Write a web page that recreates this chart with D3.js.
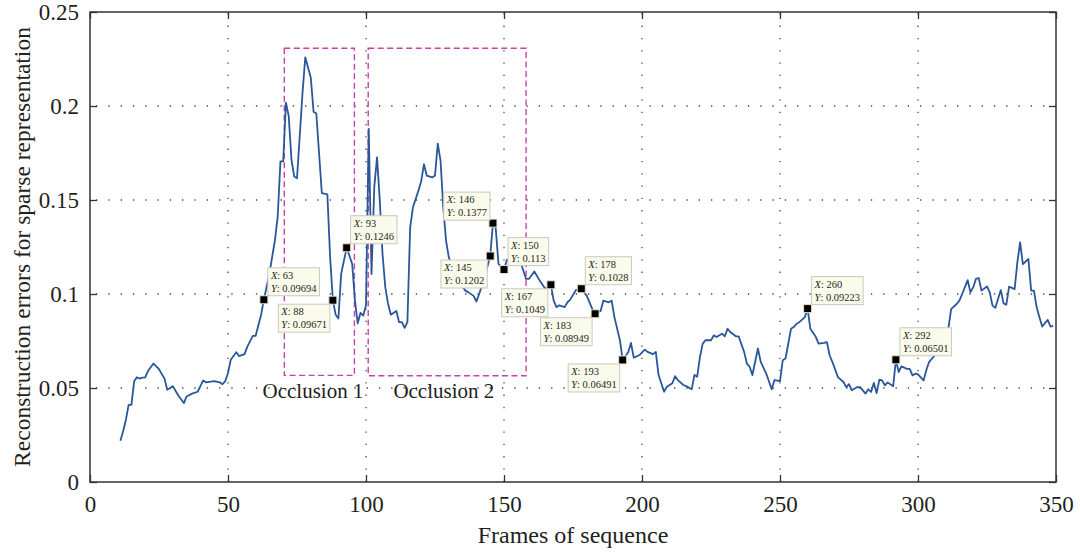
<!DOCTYPE html>
<html>
<head>
<meta charset="utf-8">
<script src="https://cdn.jsdelivr.net/npm/d3@7"></script>
<style>
  body { margin: 0; background: #fff; }
  svg { display: block; }
  text { font-family: "Liberation Serif", "DejaVu Serif", serif; fill: #231f20; }
</style>
</head>
<body>
<svg width="1080" height="554"></svg>
<script>
// frame numbers and reconstruction errors
var frames = [11,12,13,14,15,16,17,18,19,20,21,23,25,27,28,30,32,34,35,37,39,40,41,42,45,47,48,49,50,51,53,54,56,57,59,60,62,63,65,67,68,69,70,71,72,73,74,75,77,78,80,81,82,84,86,87,88,89,90,91,93,95,96,97,98,99,100,101,102,103,104,105,106,107,108,109,111,112,113,114,115,116,117,119,120,121,122,124,125,126,127,128,129,130,132,134,136,137,139,140,141,143,145,146,147,148,150,151,153,155,157,158,159,161,163,165,167,168,169,170,172,173,174,176,178,180,182,183,185,186,188,189,190,192,193,195,196,197,199,201,202,204,205,206,208,209,211,212,213,215,216,218,219,220,221,222,223,225,226,227,229,230,231,232,234,235,237,238,239,240,242,243,245,247,248,250,251,252,254,255,256,257,259,260,261,263,264,266,267,268,269,271,273,274,275,276,278,279,281,282,283,284,285,286,287,288,289,291,292,293,294,296,297,298,299,300,302,303,304,306,308,311,312,314,315,316,318,319,320,321,322,323,325,326,327,328,330,331,332,333,335,336,337,338,340,341,342,343,344,345,347,348,349];
var errors = [0.022,0.027,0.033,0.041,0.041,0.0536,0.0557,0.055,0.0555,0.0557,0.059,0.063,0.060,0.055,0.049,0.051,0.046,0.042,0.0455,0.047,0.048,0.051,0.054,0.053,0.0536,0.053,0.052,0.0536,0.058,0.065,0.069,0.067,0.068,0.072,0.0777,0.0777,0.089,0.09694,0.1107,0.1286,0.141,0.1705,0.1705,0.2018,0.1946,0.1714,0.1625,0.1616,0.207,0.2259,0.215,0.197,0.196,0.1536,0.153,0.1196,0.09671,0.089,0.087,0.1107,0.1246,0.116,0.0965,0.0844,0.090,0.0885,0.094,0.1878,0.1106,0.157,0.1727,0.1496,0.121,0.1035,0.0947,0.089,0.091,0.085,0.085,0.082,0.085,0.1355,0.146,0.155,0.160,0.169,0.163,0.162,0.163,0.180,0.171,0.146,0.1284,0.1195,0.1106,0.106,0.1018,0.101,0.099,0.096,0.1,0.109,0.1202,0.1377,0.135,0.116,0.113,0.118,0.1195,0.121,0.1125,0.108,0.108,0.112,0.107,0.1027,0.1049,0.0965,0.093,0.094,0.093,0.0956,0.097,0.102,0.1028,0.099,0.092,0.08949,0.091,0.0965,0.0956,0.0965,0.0877,0.0754,0.06491,0.069,0.074,0.0662,0.0674,0.0704,0.0692,0.068,0.0692,0.0569,0.048,0.0507,0.0525,0.0563,0.0542,0.0516,0.051,0.0493,0.0569,0.056,0.0665,0.0736,0.0754,0.0754,0.078,0.0771,0.0789,0.0775,0.0815,0.0798,0.0775,0.0775,0.0692,0.063,0.0613,0.0569,0.071,0.064,0.0577,0.0493,0.0542,0.0537,0.0648,0.0657,0.0815,0.0824,0.0842,0.085,0.0877,0.09223,0.0815,0.0771,0.0736,0.074,0.0744,0.0673,0.0638,0.0558,0.0532,0.0505,0.052,0.0488,0.0505,0.0505,0.047,0.0493,0.0479,0.0527,0.0473,0.0544,0.054,0.0514,0.053,0.0509,0.06501,0.0585,0.0615,0.0602,0.0602,0.0567,0.0576,0.0572,0.054,0.0594,0.0638,0.0673,0.073,0.0815,0.092,0.0947,0.0965,0.1,0.1074,0.1009,0.1035,0.108,0.1085,0.1018,0.104,0.1009,0.0938,0.0926,0.1021,0.095,0.0943,0.1039,0.1026,0.1168,0.1274,0.1159,0.1186,0.1018,0.1018,0.0929,0.0876,0.0827,0.0862,0.0827,0.083];

// data tips
var tipX = [63,88,93,145,146,150,167,178,183,193,260,292];
var tipY = [0.09694,0.09671,0.1246,0.1202,0.1377,0.113,0.1049,0.1028,0.08949,0.06491,0.09223,0.06501];
var tipSide = ["ur","ll","ur","ll","ul","ur","ll","ur","ll","ll","ur","ur"];

// occlusion boxes
var occName = ["Occlusion 1","Occlusion 2"];
var occStart = [70.4, 100.8];
var occEnd = [95.8, 158];
var occLow = [0.0567, 0.0565];
var occHigh = [0.2307, 0.2307];
var occLabelX = [80.8, 128.2];
var occLabelY = 0.0447;

var xTicks = [0,50,100,150,200,250,300,350];
var yTicks = [0,0.05,0.1,0.15,0.2,0.25];

var svg = d3.select("svg"),
    margin = {top: 12, right: 24, bottom: 72, left: 90},
    width = +svg.attr("width"),
    height = +svg.attr("height"),
    chartWidth = width - margin.left - margin.right,
    chartHeight = height - margin.top - margin.bottom;

var g = svg.append("g")
    .attr("transform", "translate(" + margin.left + "," + margin.top + ")");

var x = d3.scaleLinear().domain([0, 350]).range([0, chartWidth]);
var y = d3.scaleLinear().domain([0, 0.25]).range([chartHeight, 0]);

// dotted grid
g.append("g").selectAll("line")
    .data(xTicks.slice(1, -1))
    .enter().append("line")
    .attr("x1", function(d){ return x(d); })
    .attr("x2", function(d){ return x(d); })
    .attr("y1", chartHeight).attr("y2", 0)
    .attr("stroke", "#444").attr("stroke-width", 1.3)
    .attr("stroke-dasharray", "1.3,11");
g.append("g").selectAll("line")
    .data(yTicks.slice(1, -1))
    .enter().append("line")
    .attr("x1", 0).attr("x2", chartWidth)
    .attr("y1", function(d){ return y(d); })
    .attr("y2", function(d){ return y(d); })
    .attr("stroke", "#444").attr("stroke-width", 1.3)
    .attr("stroke-dasharray", "1.3,11")
    .attr("stroke-dashoffset", -6);

// axes, ticks pointing in
g.append("g")
    .attr("transform", "translate(0," + chartHeight + ")")
    .call(d3.axisBottom(x).tickValues(xTicks).tickSizeInner(-7).tickSizeOuter(0).tickPadding(14));
g.append("g")
    .call(d3.axisLeft(y).tickValues(yTicks).tickFormat(d3.format("~g")).tickSizeInner(-7).tickSizeOuter(0).tickPadding(11));
g.append("g")
    .call(d3.axisTop(x).tickValues(xTicks).tickSizeInner(-7).tickSizeOuter(0).tickFormat(""));
g.append("g")
    .attr("transform", "translate(" + chartWidth + ",0)")
    .call(d3.axisRight(y).tickValues(yTicks).tickSizeInner(-7).tickSizeOuter(0).tickFormat(""));

g.selectAll(".domain").remove();
g.selectAll(".tick line").attr("stroke", "#333").attr("stroke-width", 1.3);
g.selectAll(".tick text")
    .style("font-family", '"Liberation Serif", serif')
    .style("font-size", "23px")
    .attr("fill", "#231f20");

g.append("rect")
    .attr("width", chartWidth).attr("height", chartHeight)
    .attr("fill", "none").attr("stroke", "#333").attr("stroke-width", 1.5);

// occlusion boxes
occName.forEach(function(name, i) {
  g.append("rect")
      .attr("x", x(occStart[i]))
      .attr("y", y(occHigh[i]))
      .attr("width", x(occEnd[i]) - x(occStart[i]))
      .attr("height", y(occLow[i]) - y(occHigh[i]))
      .attr("fill", "none")
      .attr("stroke", "#c840a8")
      .attr("stroke-width", 1.4)
      .attr("stroke-dasharray", "6,3.5");
  g.append("text")
      .attr("x", x(occLabelX[i]))
      .attr("y", y(occLabelY))
      .attr("text-anchor", "middle")
      .style("font-size", "21px")
      .text(name);
});

// the curve
var points = frames.map(function(f, i){ return [f, errors[i]]; });
var line = d3.line()
    .x(function(d){ return x(d[0]); })
    .y(function(d){ return y(d[1]); });

g.append("path")
    .datum(points)
    .attr("d", line)
    .attr("fill", "none")
    .attr("stroke", "#2a579a")
    .attr("stroke-width", 1.8)
    .attr("stroke-linejoin", "round");

// data tips
var tips = g.append("g");
tipX.forEach(function(tx, i) {
  var mx = x(tx), my = y(tipY[i]);
  tips.append("rect")
      .attr("x", mx - 4).attr("y", my - 4)
      .attr("width", 8).attr("height", 8)
      .attr("fill", "#000")
      .attr("stroke", "#e8e4c8").attr("stroke-width", 1);

  var box = tips.append("g");
  var bg = box.append("rect");
  var t1 = box.append("text").attr("x", 3).attr("y", 11).style("font-size", "10.5px");
  t1.append("tspan").style("font-style", "italic").text("X");
  t1.append("tspan").text(": " + tx);
  var t2 = box.append("text").attr("x", 3).attr("y", 24).style("font-size", "10.5px");
  t2.append("tspan").style("font-style", "italic").text("Y");
  t2.append("tspan").text(": " + tipY[i]);

  var w = Math.max(t1.node().getComputedTextLength(), t2.node().getComputedTextLength()) + 6;
  var h = 28;
  bg.attr("width", w).attr("height", h)
    .attr("fill", "#fbfbec").attr("stroke", "#c8c8c0").attr("stroke-width", 1);

  var bx, by;
  if (tipSide[i] == "ur") { bx = mx + 4; by = my - 4 - h; }
  else if (tipSide[i] == "ll") { bx = mx - 3 - w; by = my + 4; }
  else { bx = mx - 3 - w; by = my - 3 - h; }
  box.attr("transform", "translate(" + bx + "," + by + ")");
});

// axis titles
svg.append("text")
    .attr("x", margin.left + chartWidth / 2)
    .attr("y", 543)
    .attr("text-anchor", "middle")
    .style("font-size", "24px")
    .text("Frames of sequence");

svg.append("text")
    .attr("transform", "translate(30," + (margin.top + chartHeight / 2) + ") rotate(-90)")
    .attr("text-anchor", "middle")
    .style("font-size", "23.5px")
    .text("Reconstruction errors for sparse representation");
</script>
</body>
</html>
